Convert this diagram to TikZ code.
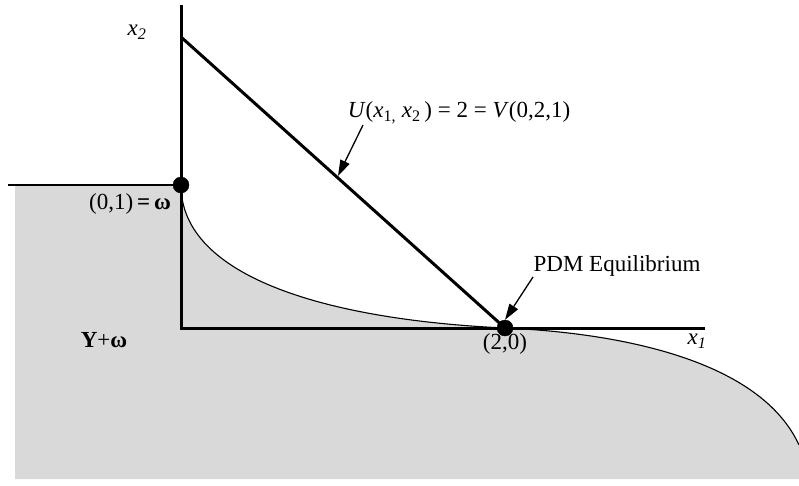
\documentclass[tikz,border=0pt]{standalone}
\usepackage{fontspec}
\setmainfont{Liberation Serif}
\usetikzlibrary{arrows.meta}
\begin{document}
\begin{tikzpicture}[x=1pt,y=-1pt,
  lbl/.style={font=\fontsize{23}{27}\selectfont, inner sep=0pt},
  axis/.style={line width=3pt},
  dotnode/.style={circle, fill=black, draw=black, minimum size=16pt, inner sep=0pt},
  callout/.style={line width=1.3pt, -{Triangle[length=16pt,width=10pt]}}]
\useasboundingbox (0,0) rectangle (799,485);
% shaded region Y + omega
\fill[gray!30] (15,185) -- (181,185)
  .. controls (181,278) and (330,320) .. (505,328)
  .. controls (620,333) and (760,360) .. (799,445)
  -- (799,479) -- (15,479) -- cycle;
\draw[line width=1.2pt] (8,185) -- (181,185);
\draw[line width=1.1pt] (181,185)
  .. controls (181,278) and (330,320) .. (505,328)
  .. controls (620,333) and (760,360) .. (799,445);
% axes
\coordinate (ytop) at (181,5);
\coordinate (origin) at (181,328);
\coordinate (xend) at (705,328);
\coordinate (ustart) at (181,37);
\draw[axis] (ytop) -- (origin) -- (xend);
% indifference line
\node[dotnode] (omega) at (181,185) {};
\node[dotnode] (eq) at (505,328) {};
\draw[axis] (ustart) -- (eq.center);
% labels
\node[lbl] (x2) at (137,32) {\textit{x}\textsubscript{\textit{2}}};
\node[lbl] (x1) at (697,341) {\textit{x}\textsubscript{\textit{1}}};
\node[lbl] (om) at (130,204) {(0,1)\,\textbf{=\,ω}};
\node[lbl] (Yw) at (104,340) {\textbf{Y}+\textbf{ω}};
\node[lbl] (p20) at (505,344) {(2,0)};
\node[lbl] (ulab) at (459,113) {\textit{U}(\textit{x}\textsubscript{1,} \textit{x}\textsubscript{2}\,) = 2 = \textit{V}(0,2,1)};
\node[lbl] (pdm) at (617,266) {PDM Equilibrium};
% callouts
\coordinate (utip) at (338,176);
\draw[callout] (363,125) -- (utip);
\draw[callout] (533,277) -- (eq.north);
\end{tikzpicture}
\end{document}
